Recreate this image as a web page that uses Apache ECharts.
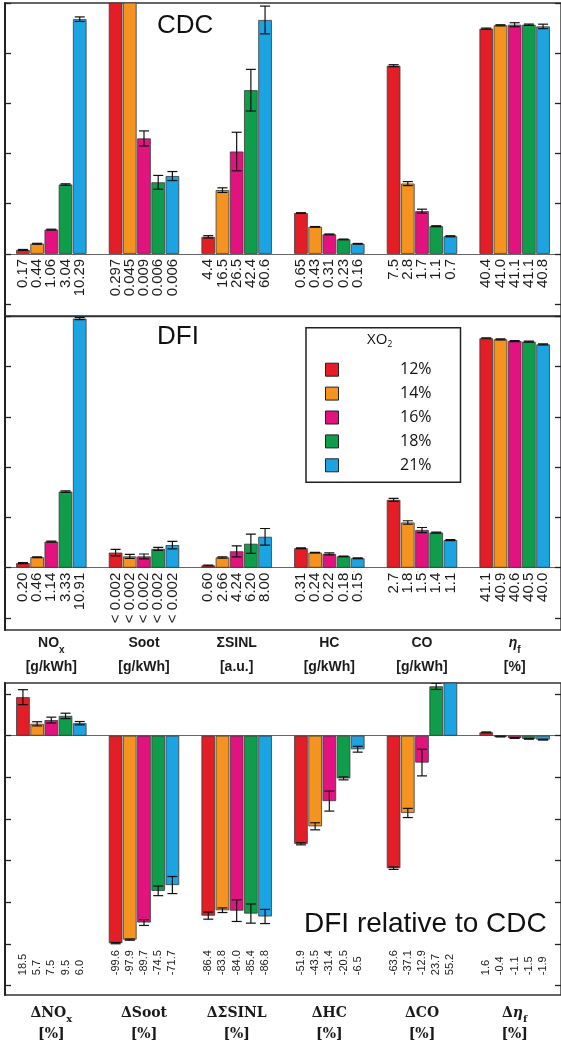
<!DOCTYPE html>
<html><head><meta charset="utf-8">
<script src="https://cdn.jsdelivr.net/npm/echarts@6/dist/echarts.min.js"></script>
<style>html,body{margin:0;padding:0;background:#fff}#c{width:561px;height:1049px}</style>
</head><body><div id="c"></div>
<script>
// ---------------- data ----------------
const metrics = ['NOx', 'Soot', 'ΣSINL', 'HC', 'CO', 'ηf'];
const metricUnits = ['[g/kWh]', '[g/kWh]', '[a.u.]', '[g/kWh]', '[g/kWh]', '[%]'];
const relUnits = ['[%]', '[%]', '[%]', '[%]', '[%]', '[%]'];
const seriesNames = ['12%', '14%', '16%', '18%', '21%'];
// physical value corresponding to one tick step of the absolute panels
const metricScale = [2.2, 0.004, 13, 0.8, 2, 9];

// CDC (one array per XO2 level, ordered like metrics)
const cdc12 = [0.17, 0.297, 4.4, 0.65, 7.5, 40.4];
const cdc14 = [0.44, 0.045, 16.5, 0.43, 2.8, 41.0];
const cdc16 = [1.06, 0.0092, 26.5, 0.31, 1.7, 41.1];
const cdc18 = [3.04, 0.0057, 42.4, 0.23, 1.1, 41.1];
const cdc21 = [10.29, 0.0062, 60.6, 0.16, 0.7, 40.8];
const cdcErr12 = [0.02, 0, 0.3, 0.005, 0.04, 0.1];
const cdcErr14 = [0.02, 0, 0.6, 0.005, 0.08, 0.1];
const cdcErr16 = [0.02, 0.0006, 5.0, 0.006, 0.08, 0.36];
const cdcErr18 = [0.03, 0.00055, 5.4, 0.005, 0.02, 0.12];
const cdcErr21 = [0.1, 0.00036, 3.6, 0.005, 0.02, 0.4];
const cdcLbl12 = ['0.17', '0.297', '4.4', '0.65', '7.5', '40.4'];
const cdcLbl14 = ['0.44', '0.045', '16.5', '0.43', '2.8', '41.0'];
const cdcLbl16 = ['1.06', '0.009', '26.5', '0.31', '1.7', '41.1'];
const cdcLbl18 = ['3.04', '0.006', '42.4', '0.23', '1.1', '41.1'];
const cdcLbl21 = ['10.29', '0.006', '60.6', '0.16', '0.7', '40.8'];

// DFI
const dfi12 = [0.20, 0.0012, 0.60, 0.31, 2.7, 41.1];
const dfi14 = [0.46, 0.0009, 2.66, 0.24, 1.8, 40.9];
const dfi16 = [1.14, 0.0009, 4.24, 0.22, 1.5, 40.6];
const dfi18 = [3.33, 0.0015, 6.20, 0.18, 1.4, 40.5];
const dfi21 = [10.91, 0.0018, 8.00, 0.15, 1.1, 40.0];
const dfiErr12 = [0.02, 0.00026, 0.1, 0.005, 0.06, 0.09];
const dfiErr14 = [0.02, 0.00016, 0.18, 0.005, 0.07, 0.09];
const dfiErr16 = [0.02, 0.00019, 1.42, 0.016, 0.1, 0.09];
const dfiErr18 = [0.03, 0.00012, 2.5, 0.005, 0.02, 0.09];
const dfiErr21 = [0.05, 0.0003, 2.15, 0.005, 0.02, 0.09];
const dfiLbl12 = ['0.20', '< 0.002', '0.60', '0.31', '2.7', '41.1'];
const dfiLbl14 = ['0.46', '< 0.002', '2.66', '0.24', '1.8', '40.9'];
const dfiLbl16 = ['1.14', '< 0.002', '4.24', '0.22', '1.5', '40.6'];
const dfiLbl18 = ['3.33', '< 0.002', '6.20', '0.18', '1.4', '40.5'];
const dfiLbl21 = ['10.91', '< 0.002', '8.00', '0.15', '1.1', '40.0'];

// DFI relative to CDC [%]
const rel12 = [18.5, -99.6, -86.4, -51.9, -63.6, 1.6];
const rel14 = [5.7, -97.9, -83.8, -43.5, -37.1, -0.4];
const rel16 = [7.5, -89.7, -84.0, -31.4, -12.9, -1.1];
const rel18 = [9.5, -74.5, -85.4, -20.5, 23.7, -1.5];
const rel21 = [6.0, -71.7, -86.8, -6.5, 55.2, -1.9];
const relErr12 = [3.6, 0.3, 1.7, 0.5, 0.6, 0.2];
const relErr14 = [1.0, 0.3, 1.1, 1.7, 2.2, 0.2];
const relErr16 = [1.4, 1.4, 5.2, 4.8, 6.4, 0.2];
const relErr18 = [1.3, 2.3, 4.6, 0.7, 1.5, 0.2];
const relErr21 = [0.8, 4.1, 3.4, 1.4, 0, 0.2];
const relLbl12 = ['18.5', '-99.6', '-86.4', '-51.9', '-63.6', '1.6'];
const relLbl14 = ['5.7', '-97.9', '-83.8', '-43.5', '-37.1', '-0.4'];
const relLbl16 = ['7.5', '-89.7', '-84.0', '-31.4', '-12.9', '-1.1'];
const relLbl18 = ['9.5', '-74.5', '-85.4', '-20.5', '23.7', '-1.5'];
const relLbl21 = ['6.0', '-71.7', '-86.8', '-6.5', '55.2', '-1.9'];

const absTicks = [-1, 0, 1, 2, 3, 4, 5];
const relTicks = [20, 0, -20, -40, -60, -80, -100, -120];

// ---------------- styling / layout ----------------
const colors = ['#e41e26', '#f4931f', '#e2127f', '#0f9d4c', '#1ca4e2'];
const BAR_W = 13.6, STEP = 14.2, CAP = 5;
const SANS = 'Liberation Sans';
const REL_LABEL_Y = -115;

const cdcV = [cdc12, cdc14, cdc16, cdc18, cdc21];
const cdcE = [cdcErr12, cdcErr14, cdcErr16, cdcErr18, cdcErr21];
const cdcL = [cdcLbl12, cdcLbl14, cdcLbl16, cdcLbl18, cdcLbl21];
const dfiV = [dfi12, dfi14, dfi16, dfi18, dfi21];
const dfiE = [dfiErr12, dfiErr14, dfiErr16, dfiErr18, dfiErr21];
const dfiL = [dfiLbl12, dfiLbl14, dfiLbl16, dfiLbl18, dfiLbl21];
const relV = [rel12, rel14, rel16, rel18, rel21];
const relE = [relErr12, relErr14, relErr16, relErr18, relErr21];
const relL = [relLbl12, relLbl14, relLbl16, relLbl18, relLbl21];

const norm = (v, i, scaled) => scaled ? v / metricScale[i] : v;

function barSeries(vals, xi, yi, scaled) {
  return vals.map((arr, s) => ({
    type: 'bar', name: seriesNames[s], xAxisIndex: xi, yAxisIndex: yi,
    barWidth: BAR_W, barGap: '4.4%',
    data: arr.map((v, i) => norm(v, i, scaled)),
    itemStyle: { color: colors[s], borderColor: '#3a3a3a', borderWidth: 0.8 },
    z: 2
  }));
}

function errSeries(vals, errs, xi, yi, scaled) {
  const data = [];
  vals.forEach((arr, s) => arr.forEach((v, c) => {
    const e = errs[s][c];
    data.push([c, s, norm(v - e, c, scaled), norm(v + e, c, scaled)]);
  }));
  return {
    type: 'custom', xAxisIndex: xi, yAxisIndex: yi, clip: true, z: 4, silent: true,
    encode: { x: 0, y: [2, 3] }, data,
    renderItem(params, api) {
      const c = api.value(0), s = api.value(1);
      const lo = api.coord([c, api.value(2)]), hi = api.coord([c, api.value(3)]);
      const x = lo[0] + (s - 2) * STEP;
      const st = { stroke: '#111', lineWidth: 1.2 };
      return { type: 'group', children: [
        { type: 'line', shape: { x1: x, y1: lo[1], x2: x, y2: hi[1] }, style: st },
        { type: 'line', shape: { x1: x - CAP, y1: lo[1], x2: x + CAP, y2: lo[1] }, style: st },
        { type: 'line', shape: { x1: x - CAP, y1: hi[1], x2: x + CAP, y2: hi[1] }, style: st }
      ] };
    }
  };
}

function labelSeries(labels, xi, yi, anchorVal, dy, align, fontSize) {
  const data = [];
  labels.forEach((arr, s) => arr.forEach((t, c) => data.push([c, s, anchorVal])));
  return {
    type: 'custom', xAxisIndex: xi, yAxisIndex: yi, z: 5, silent: true,
    encode: { x: 0, y: 2 }, data,
    renderItem(params, api) {
      const c = api.value(0), s = api.value(1);
      const p = api.coord([c, api.value(2)]);
      return {
        type: 'text', x: p[0] + (s - 2) * STEP, y: p[1] + dy, rotation: Math.PI / 2,
        style: { text: labels[s][c], font: fontSize + 'px "' + SANS + '"', fill: '#1a1a1a',
                 align: align, verticalAlign: 'middle' }
      };
    }
  };
}

const grids = [
  { left: 5, top: 3, width: 557, height: 313 },
  { left: 5, top: 316.5, width: 557, height: 313.5 },
  { left: 5, top: 683, width: 557, height: 312 }
].map(g => Object.assign(g, { show: true, borderColor: '#333', borderWidth: 1.3, containLabel: false }));

function barAxis(gi, yLeft) {
  return { type: 'category', gridIndex: gi, data: metrics,
    axisLine: { show: true, onZero: true, onZeroAxisIndex: yLeft, lineStyle: { color: '#666', width: 1 } },
    axisTick: { show: false }, axisLabel: { show: false }, splitLine: { show: false } };
}

const topNames = ['{b|NO}{s|x}', '{b|Soot}', '{b|ΣSINL}', '{b|HC}', '{b|CO}', '{e|η}{s|f}'];
const relNames = ['{b|ΔNO}{s|x}', '{b|ΔSoot}', '{b|ΔΣSINL}', '{b|ΔHC}', '{b|ΔCO}', '{b|Δ}{e|η}{s|f}'];

function nameAxis(gi, names, units, family, lh, margin) {
  return { type: 'category', gridIndex: gi, data: metrics, position: 'bottom',
    axisLine: { show: false, onZero: false }, axisTick: { show: false }, splitLine: { show: false },
    axisLabel: { interval: 0, margin: margin,
      formatter: (v, i) => names[i] + '\n{u|' + units[i] + '}',
      rich: {
        b: { fontFamily: family, fontWeight: 'bold', fontSize: 14, lineHeight: lh, color: '#1a1a1a' },
        e: { fontFamily: family, fontWeight: 'bold', fontStyle: 'italic', fontSize: 14, lineHeight: lh, color: '#1a1a1a' },
        s: { fontFamily: family, fontWeight: 'bold', fontSize: 10, lineHeight: 9, verticalAlign: 'bottom', color: '#1a1a1a' },
        u: { fontFamily: family, fontWeight: 'bold', fontSize: 14, lineHeight: lh, color: '#1a1a1a' }
      } } };
}

function valAxis(gi, pos, min, max, ticks) {
  return { type: 'value', gridIndex: gi, position: pos, min, max,
    axisLine: { show: true, lineStyle: { color: pos === 'left' ? '#222' : '#333', width: pos === 'left' ? 2 : 1.3 } },
    axisTick: { show: true, inside: true, length: 6, customValues: ticks, lineStyle: { color: '#222', width: 1.3 } },
    axisLabel: { show: false }, splitLine: { show: false } };
}

const option = {
  animation: false,
  backgroundColor: '#fff',
  grid: grids,
  xAxis: [
    barAxis(0, 0),
    barAxis(1, 2),
    nameAxis(1, topNames, metricUnits, SANS, 24, 1),
    barAxis(2, 4),
    nameAxis(2, relNames, relUnits, 'DejaVu Serif', 21, 8)
  ],
  yAxis: [
    valAxis(0, 'left', -1.24, 5, absTicks), valAxis(0, 'right', -1.24, 5, absTicks),
    valAxis(1, 'left', -1.24, 5, absTicks), valAxis(1, 'right', -1.24, 5, absTicks),
    valAxis(2, 'left', -124.5, 25.3, relTicks), valAxis(2, 'right', -124.5, 25.3, relTicks)
  ],
  title: [
    { text: 'CDC', left: 157, top: 13, padding: 0, textStyle: { fontFamily: SANS, fontSize: 26, fontWeight: 'normal', color: '#111' } },
    { text: 'DFI', left: 157, top: 324, padding: 0, textStyle: { fontFamily: SANS, fontSize: 26, fontWeight: 'normal', color: '#111' } },
    { text: 'DFI relative to CDC', left: 304, top: 910, padding: 0, textStyle: { fontFamily: SANS, fontSize: 28, fontWeight: 'normal', color: '#111' } },
    { text: '{a|XO}{b|2}', left: 367, top: 331, padding: 0,
      textStyle: { fontWeight: 'normal', rich: {
        a: { fontFamily: 'Open Sans', fontWeight: 'normal', fontSize: 15, color: '#111', lineHeight: 18 },
        b: { fontFamily: 'Open Sans', fontWeight: 'normal', fontSize: 9, color: '#111', lineHeight: 9, verticalAlign: 'bottom' } } } }
  ],
  legend: {
    data: seriesNames, orient: 'vertical', left: 306, top: 327.7,
    padding: [34, 29, 9, 19], itemGap: 7.9, itemWidth: 13, itemHeight: 13, icon: 'rect',
    borderColor: '#222', borderWidth: 1.5, selectedMode: false,
    itemStyle: { borderColor: '#222', borderWidth: 1 },
    formatter: n => '{t|' + n + '}',
    textStyle: { rich: { t: { fontFamily: 'Open Sans', fontSize: 16, width: 88, align: 'right', lineHeight: 20, color: '#111' } } }
  },
  series: [
    ...barSeries(cdcV, 0, 0, true),
    errSeries(cdcV, cdcE, 0, 0, true),
    labelSeries(cdcL, 0, 0, 0, 5, 'right', 15),
    ...barSeries(dfiV, 1, 2, true),
    errSeries(dfiV, dfiE, 1, 2, true),
    labelSeries(dfiL, 1, 2, 0, 5, 'right', 15),
    ...barSeries(relV, 3, 4, false),
    errSeries(relV, relE, 3, 4, false),
    labelSeries(relL, 3, 4, REL_LABEL_Y, 0, 'left', 11)
  ]
};

const chart = echarts.init(document.getElementById('c'), null, { renderer: 'canvas' });
chart.setOption(option);
</script>
</body></html>
